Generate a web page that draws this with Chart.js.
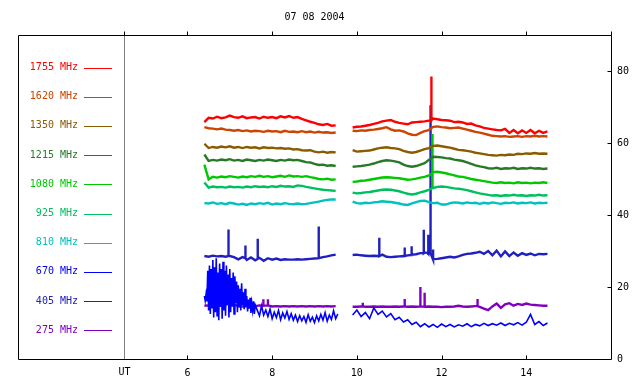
<!DOCTYPE html>
<html>
<head>
<meta charset="utf-8">
<script src="https://cdn.jsdelivr.net/npm/chart.js@4/dist/chart.umd.min.js"></script>
<style>
  html, body { margin: 0; padding: 0; background: #fff; }
  #wrap { width: 640px; height: 384px; }
</style>
</head>
<body>
<div id="wrap"><canvas id="chart" width="640" height="384"></canvas></div>
<script>
// 07 08 2004, radio flux, hours UT
const title = '07 08 2004';
const freqLabels = ['1755 MHz','1620 MHz','1350 MHz','1215 MHz','1080 MHz','925 MHz','810 MHz','670 MHz','405 MHz','275 MHz'];
const freqColors = ['#ff0000','#cc4400','#8a5c00','#267a26','#00c800','#00bf60','#00c0c0','#0000ff','#2020c0','#8000c0'];
const xTicks = [6, 8, 10, 12, 14];
const yTicks = [0, 20, 40, 60, 80];

// common time base (null gap at 9.7)
const hours = [6.4,6.5,6.6,6.7,6.8,6.9,7.0,7.1,7.2,7.3,7.4,7.5,7.6,7.7,7.8,7.9,8.0,8.1,8.2,8.3,8.4,8.5,8.6,8.7,8.8,8.9,9.0,9.1,9.2,9.3,9.4,9.5,
  9.7,
  9.9,10.0,10.1,10.2,10.3,10.4,10.5,10.6,10.7,10.8,10.9,11.0,11.1,11.2,11.3,11.4,11.5,11.6,11.7,11.8,11.9,12.0,12.1,12.2,12.3,12.4,12.5,12.6,12.7,12.8,12.9,13.0,13.1,13.2,13.3,13.4,13.5,13.6,13.7,13.8,13.9,14.0,14.1,14.2,14.3,14.4,14.5];

const f1755 = [65.8,67.0,66.8,67.3,66.9,67.1,67.6,67.2,67.0,67.4,66.9,67.1,67.2,66.8,67.3,67.0,67.2,66.9,67.4,67.1,67.5,67.0,67.2,66.7,66.3,65.9,65.6,65.2,65.0,65.3,64.8,64.9,
  null,
  64.3,64.5,64.6,64.8,65.0,65.3,65.6,66.0,66.2,66.4,65.9,65.6,65.4,65.2,65.7,65.8,65.9,66.0,66.2,66.8,66.6,66.4,66.3,66.2,65.8,65.9,65.7,65.3,65.4,64.9,64.6,64.2,64.0,63.8,63.6,63.5,63.9,62.8,63.6,62.7,63.5,62.8,63.6,62.7,63.4,62.8,63.2];
const f1620 = [64.4,64.1,64.0,63.8,64.0,63.7,63.6,63.4,63.6,63.3,63.5,63.2,63.4,63.3,63.1,63.4,63.2,63.3,63.0,63.4,63.1,63.2,63.0,63.3,63.0,63.2,62.9,63.1,62.9,63.0,62.8,62.9,
  null,
  63.4,63.3,63.5,63.4,63.6,63.7,63.9,64.1,64.4,63.8,63.4,63.5,63.2,62.7,62.3,62.2,62.8,63.3,63.6,64.5,64.6,64.4,64.3,64.1,64.2,64.3,64.0,63.7,63.4,63.1,62.9,62.6,62.3,62.0,61.9,61.8,61.9,61.7,61.8,61.9,61.7,61.9,61.8,62.0,61.8,61.9,61.8];
const f1350 = [59.8,58.6,58.9,58.7,59.0,58.8,59.1,58.7,58.9,58.6,58.9,58.7,58.8,58.5,58.8,58.6,58.7,58.5,58.6,58.4,58.5,58.2,58.3,58.0,57.9,58.0,57.6,57.4,57.6,57.3,57.5,57.4,
  null,
  58.0,57.6,57.7,57.8,57.9,58.2,58.5,58.7,58.8,58.6,58.5,58.3,57.8,57.5,57.3,57.5,57.9,58.3,58.6,59.2,59.3,59.1,58.9,58.7,58.4,58.1,58.0,57.8,57.6,57.3,57.1,56.9,56.7,56.6,56.5,56.7,56.6,56.8,56.7,57.0,56.9,57.1,57.0,57.2,57.0,57.1,57.0];
const f1215 = [56.8,55.0,55.3,55.1,55.4,55.2,55.5,55.1,55.3,55.0,55.4,55.2,55.0,55.3,55.1,55.4,55.2,55.0,55.3,55.1,55.4,55.2,55.3,55.0,54.7,54.6,54.2,53.9,54.0,53.7,53.8,53.6,
  null,
  53.4,53.5,53.6,53.8,54.0,54.3,54.7,55.0,55.2,55.1,54.9,54.6,54.0,53.6,53.4,53.6,54.0,54.4,55.3,56.2,56.1,56.0,55.8,55.7,55.4,55.2,55.0,54.6,54.2,53.8,53.5,53.3,53.0,52.9,53.1,52.8,53.0,52.9,53.1,52.8,53.0,52.9,53.1,52.9,53.0,52.8,52.9];
const f1080 = [54.0,49.9,50.6,50.4,50.7,50.5,50.8,50.6,50.4,50.7,50.5,50.8,50.6,50.9,50.6,50.8,50.5,50.7,50.9,50.6,51.0,50.7,50.8,50.6,50.8,50.5,50.3,50.0,49.9,50.1,49.8,49.9,
  null,
  49.2,49.3,49.5,49.6,49.8,50.0,50.2,50.4,50.5,50.4,50.3,50.2,50.0,49.8,49.9,50.1,50.4,50.6,51.0,51.9,52.0,51.8,51.6,51.3,51.0,50.7,50.6,50.3,50.0,49.8,49.6,49.4,49.2,49.0,48.9,49.1,48.9,49.0,48.8,49.1,48.9,49.0,48.8,49.0,48.9,49.1,48.9];
const f925 = [49.0,47.6,47.9,47.7,47.8,47.6,47.9,47.7,47.8,47.6,47.9,47.7,48.0,47.8,47.9,47.7,48.0,47.8,48.1,47.9,48.0,47.8,48.2,48.1,47.8,47.6,47.4,47.2,47.0,46.9,46.8,46.7,
  null,
  46.2,46.0,46.1,46.3,46.4,46.6,46.8,47.0,47.1,47.0,46.8,46.6,46.2,45.9,45.7,45.9,46.3,46.6,47.0,47.5,47.8,47.9,47.8,47.6,47.4,47.3,47.1,46.9,46.6,46.3,46.0,45.8,45.6,45.4,45.5,45.3,45.5,45.4,45.6,45.4,45.5,45.3,45.5,45.4,45.6,45.4,45.5];
const f810 = [43.3,43.2,43.5,43.1,43.3,43.0,43.4,43.2,42.9,43.1,42.8,43.2,43.0,43.3,43.1,43.4,42.9,43.2,43.0,43.3,43.1,43.0,43.2,43.0,43.1,43.3,43.5,43.7,44.0,44.2,44.3,44.3,
  null,
  43.7,43.3,43.2,43.4,43.3,43.5,43.6,43.8,43.7,43.6,43.4,43.2,42.9,42.8,43.2,43.6,43.9,44.0,43.6,43.3,43.4,42.9,42.9,43.3,43.5,43.4,43.2,43.5,43.3,43.4,43.1,43.4,43.2,43.5,43.3,43.1,43.4,43.3,43.5,43.2,43.4,43.3,43.5,43.2,43.4,43.3,43.4];
const f405 = [28.6,28.4,28.7,28.5,28.6,28.4,28.6,28.3,27.7,28.3,27.5,28.2,27.4,28.1,27.3,28.0,27.6,27.9,27.5,27.7,27.6,27.6,27.7,27.6,27.7,27.8,27.9,28.0,28.3,28.5,28.8,29.0,
  null,
  28.9,29.0,28.8,28.7,28.6,28.7,28.6,29.0,28.4,28.3,28.4,28.5,28.6,28.8,29.0,29.1,29.4,29.6,29.3,27.6,27.8,28.0,28.2,28.4,28.2,28.5,28.9,29.2,29.3,29.5,29.8,29.2,30.0,28.8,30.1,28.5,29.9,28.6,29.6,28.7,29.4,28.9,29.3,28.8,29.2,29.1,29.2];
const f275 = [14.8,14.9,14.8,14.9,14.8,15.1,15.4,15.0,14.8,14.6,14.7,14.5,14.7,14.9,14.8,14.9,14.6,14.7,14.6,14.7,14.6,14.7,14.6,14.7,14.6,14.7,14.6,14.7,14.6,14.7,14.6,14.7,
  null,
  14.5,14.5,14.6,14.5,14.5,14.6,14.5,14.6,14.5,14.5,14.6,14.5,14.6,14.5,14.6,14.5,14.6,14.5,14.6,14.5,14.5,14.4,14.5,14.5,14.6,14.8,14.6,14.5,14.6,14.7,14.5,14.0,13.6,14.6,15.4,14.2,15.2,15.5,14.8,15.3,15.0,15.4,15.1,15.0,14.9,14.8,14.8];

// 670 MHz is noisy, own time base
const t670 = [6.40,6.42,6.44,6.46,6.48,6.50,6.52,6.54,6.56,6.58,6.60,6.62,6.64,6.66,6.68,6.70,6.72,6.74,6.76,6.78,6.80,6.82,6.84,6.86,6.88,6.90,6.92,6.94,6.96,6.98,
  7.00,7.02,7.04,7.06,7.08,7.10,7.12,7.14,7.16,7.18,7.20,7.22,7.24,7.26,7.28,7.30,7.32,7.34,7.36,7.38,7.40,7.42,7.44,7.46,7.48,7.50,7.52,7.54,7.56,7.58,7.60,
  7.65,7.70,7.75,7.80,7.85,7.90,7.95,8.00,8.05,8.10,8.15,8.20,8.25,8.30,8.35,8.40,8.45,8.50,8.55,8.60,8.65,8.70,8.75,8.80,8.85,8.90,8.95,9.00,9.05,9.10,9.15,9.20,9.25,9.30,9.35,9.40,9.45,9.50,9.55,
  9.7,
  9.9,10.0,10.1,10.2,10.3,10.4,10.5,10.6,10.7,10.8,10.9,11.0,11.1,11.2,11.3,11.4,11.5,11.6,11.7,11.8,11.9,12.0,12.1,12.2,12.3,12.4,12.5,12.6,12.7,12.8,12.9,13.0,13.1,13.2,13.3,13.4,13.5,13.6,13.7,13.8,13.9,14.0,14.1,14.2,14.3,14.4,14.5];
const f670 = [17.5,16.2,18.0,16.0,24.5,13.5,26.0,12.5,25.0,14.0,27.5,11.5,25.5,13.0,28.0,12.0,24.0,10.8,26.5,14.5,25.0,11.2,27.0,13.5,24.5,12.0,26.0,15.0,23.5,11.5,
  25.0,13.0,22.5,14.5,24.0,12.5,23.0,15.5,21.5,13.0,20.5,14.5,19.5,13.5,21.0,15.0,18.5,13.8,19.5,14.5,17.5,13.2,16.5,14.0,17.0,12.8,15.5,13.5,16.0,12.5,15.0,
  13.5,12.0,14.8,12.2,13.6,11.8,13.9,11.2,13.0,11.5,13.5,10.9,12.8,11.4,13.2,11.0,12.6,10.8,12.2,10.4,12.0,10.6,11.8,10.2,12.3,10.5,11.6,10.1,12.0,10.6,12.4,10.8,12.9,10.5,12.2,11.0,13.4,11.2,12.5,
  null,
  12.2,13.6,11.8,12.9,11.2,14.2,12.4,13.3,11.7,12.6,10.9,11.6,10.3,10.9,9.6,10.2,9.0,9.8,8.9,9.6,8.8,9.7,9.0,9.6,8.9,9.5,9.1,9.8,9.0,9.6,9.2,9.9,9.3,9.8,9.4,10.0,9.3,9.9,9.5,10.1,9.4,10.2,12.4,9.6,10.4,9.3,10.0];

// short bursts: [hour, base, peak]
const spikes1755 = [[11.76, 66.3, 78.5]];
const spikes1080 = [[11.78, 51.5, 62.5], [11.79, 51.5, 47.6]];
const spikes405 = [[6.97, 28.6, 36.0], [7.37, 28.0, 31.5], [7.66, 27.8, 33.4], [9.10, 28.0, 36.8],
  [10.53, 28.6, 33.7], [11.13, 28.6, 31.0], [11.29, 28.9, 31.3], [11.58, 29.4, 35.9], [11.68, 29.4, 34.5], [11.74, 29.4, 70.5], [11.80, 27.7, 30.4]];
const spikes275 = [[7.79, 14.8, 16.6], [7.90, 14.9, 16.6], [10.14, 14.6, 15.6], [11.13, 14.6, 16.7], [11.50, 14.6, 20.0], [11.60, 14.5, 18.4], [12.85, 14.7, 16.7]];

function buildPoints(ts, vals, spk) {
  let pts = ts.map((t, i) => ({x: t, y: vals[i]}));
  (spk || []).forEach(s => {
    pts.push({x: s[0], y: s[1]}, {x: s[0], y: s[2]}, {x: s[0], y: s[1]});
  });
  return pts.sort((a, b) => a.x - b.x);
}

const seriesData = [
  buildPoints(hours, f1755, spikes1755),
  buildPoints(hours, f1620),
  buildPoints(hours, f1350),
  buildPoints(hours, f1215),
  buildPoints(hours, f1080, spikes1080),
  buildPoints(hours, f925),
  buildPoints(hours, f810),
  buildPoints(t670, f670),
  buildPoints(hours, f405, spikes405),
  buildPoints(hours, f275, spikes275)
];

const FONT = '"DejaVu Sans Mono", monospace';

const framePlugin = {
  id: 'frame',
  afterDraw(chart) {
    const c = chart.ctx, a = chart.chartArea;
    const xs = chart.scales.x, ys = chart.scales.y;
    c.save();
    // UT line
    const ux = Math.round(xs.getPixelForValue(4.5)) + 0.5;
    c.strokeStyle = '#808080'; c.lineWidth = 1;
    c.beginPath(); c.moveTo(ux, a.top); c.lineTo(ux, a.bottom); c.stroke();
    // frame
    c.strokeStyle = '#000';
    const L = Math.round(a.left) + 0.5, R = Math.round(a.right) + 0.5;
    const T = Math.round(a.top) + 0.5, B = Math.round(a.bottom) + 0.5;
    c.beginPath();
    c.moveTo(L, B); c.lineTo(L, T); c.lineTo(R, T); c.lineTo(R, B); c.lineTo(L, B);
    c.stroke();
    // ticks
    c.beginPath();
    xTicks.forEach(v => {
      const x = Math.round(xs.getPixelForValue(v)) + 0.5;
      c.moveTo(x, B); c.lineTo(x, B - 4);
    });
    [4.5].concat(xTicks, [16]).forEach(v => {
      const x = Math.round(xs.getPixelForValue(v)) + 0.5;
      c.moveTo(x, T); c.lineTo(x, T - 4);
    });
    yTicks.slice(1).forEach(v => {
      const y = Math.round(ys.getPixelForValue(v)) + 0.5;
      c.moveTo(R, y); c.lineTo(R - 4, y);
    });
    c.stroke();
    // texts
    c.font = '10px ' + FONT;
    c.fillStyle = '#000';
    c.textAlign = 'center'; c.textBaseline = 'middle';
    c.fillText(title, (a.left + a.right) / 2, 17);
    c.fillText('UT', ux, 372);
    // legend
    freqLabels.forEach((lab, i) => {
      const y = 67.5 + 29.2 * i;
      c.fillStyle = freqColors[i];
      c.textAlign = 'right';
      c.fillText(lab, 78, y);
      c.strokeStyle = freqColors[i];
      c.beginPath();
      c.moveTo(84, Math.round(y) + 0.5); c.lineTo(112, Math.round(y) + 0.5);
      c.stroke();
    });
    c.restore();
  }
};

new Chart(document.getElementById('chart'), {
  type: 'line',
  data: {
    datasets: seriesData.map((d, i) => ({
      label: freqLabels[i],
      data: d,
      borderColor: freqColors[i],
      borderWidth: i === 7 ? 1.6 : 2.4,
      pointRadius: 0,
      tension: 0,
      spanGaps: false
    }))
  },
  options: {
    responsive: false,
    animation: false,
    layout: { padding: { left: 18, top: 35, right: 0, bottom: 0 } },
    plugins: { legend: { display: false }, tooltip: { enabled: false }, title: { display: false } },
    scales: {
      x: {
        type: 'linear', min: 2, max: 16,
        afterFit: s => { s.height = 25; },
        grid: { display: false, drawTicks: false },
        border: { display: false },
        ticks: {
          stepSize: 2, padding: 8, color: '#000',
          font: { family: FONT, size: 10 },
          callback: v => xTicks.includes(v) ? String(v) : ''
        }
      },
      y: {
        position: 'right', min: 0, max: 90,
        afterFit: s => { s.width = 29; },
        grid: { display: false, drawTicks: false },
        border: { display: false },
        ticks: {
          stepSize: 20, padding: 6, color: '#000',
          font: { family: FONT, size: 10 },
          callback: v => yTicks.includes(v) ? String(v) : ''
        }
      }
    }
  },
  plugins: [framePlugin]
});
</script>
</body>
</html>
